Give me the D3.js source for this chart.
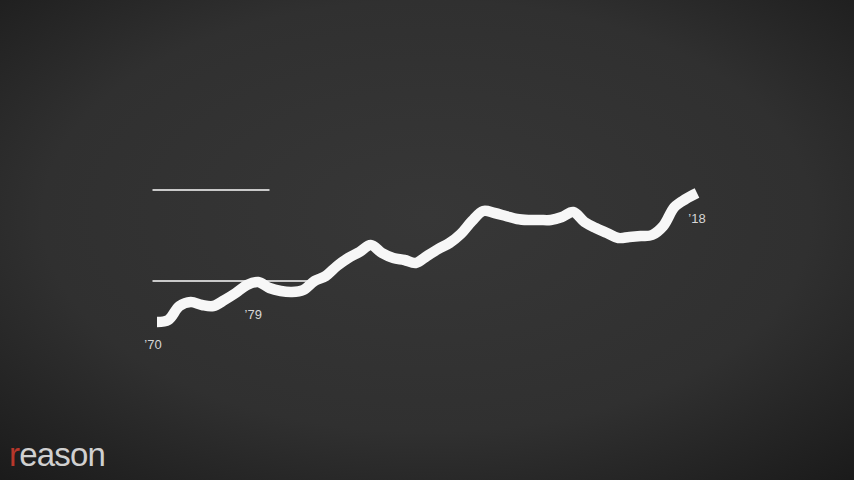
<!DOCTYPE html>
<html><head><meta charset="utf-8">
<script src="https://cdn.jsdelivr.net/npm/d3@7"></script>
<style>html,body{margin:0;padding:0;background:#2a2a2a;overflow:hidden}svg{display:block}</style>
</head><body>
<svg id="chart" width="854" height="480"></svg>
<script>
const years = d3.range(1970, 2019);
const values = [8, 10, 24, 28, 25, 24, 30, 37, 45, 48, 42, 39, 38, 40, 49, 54, 64, 72, 78, 85, 77, 72, 70, 67, 74, 81, 87, 96, 109, 119, 117, 114, 111, 110, 110, 110, 113, 118, 108, 102, 97, 92, 93, 94, 95, 104, 123, 131, 137];
const labelYears = [1970, 1979, 2018];
const labelTexts = ["\u201970", "\u201979", "\u201918"];
const refValues = [140, 49];
const refStart = [1969.6, 1969.6];
const refEnd = [1980, 1983.6];

const svg = d3.select("#chart");
const W = 854, H = 480;
const defs = svg.append("defs");
const rg = defs.append("radialGradient").attr("id","bg").attr("cx","50%").attr("cy","45%").attr("r","75%");
rg.append("stop").attr("offset","0%").attr("stop-color","#373737");
rg.append("stop").attr("offset","60%").attr("stop-color","#303030");
rg.append("stop").attr("offset","100%").attr("stop-color","#1a1a1a");
svg.append("rect").attr("width",W).attr("height",H).attr("fill","url(#bg)");

const x = d3.scaleLinear().domain([1970, 2018]).range([157, 697]);
const y = d3.scaleLinear().domain([0, 140]).range([330, 190]);

svg.selectAll("line.ref").data(refValues).join("line").attr("class","ref")
  .attr("x1",(d,i)=>x(refStart[i])).attr("x2",(d,i)=>x(refEnd[i]))
  .attr("y1",d=>y(d)).attr("y2",d=>y(d))
  .attr("stroke","#c9c9c9").attr("stroke-width",2);

const data = years.map((yr,i)=>({yr, v: values[i]}));
const line = d3.line().x(d=>x(d.yr)).y(d=>y(d.v)).curve(d3.curveCatmullRom.alpha(0.5));
svg.append("path").datum(data).attr("d",line)
  .attr("fill","none").attr("stroke","#f7f7f7").attr("stroke-width",10.5)
  .attr("stroke-linejoin","round").attr("stroke-linecap","butt");

const labelPos = [[-4, 27], [-5, 37], [0, 30]];
svg.selectAll("text.lbl").data(labelYears).join("text").attr("class","lbl")
  .attr("x",(d,i)=>x(d)+labelPos[i][0])
  .attr("y",(d,i)=>y(values[years.indexOf(d)])+labelPos[i][1])
  .attr("text-anchor","middle")
  .attr("font-family","Liberation Sans, Arial, sans-serif").attr("font-size",13)
  .attr("fill","#d6d6d6").text((d,i)=>labelTexts[i]);

const logo = svg.append("text").attr("x",9).attr("y",466)
  .attr("font-family","Liberation Sans, Arial, sans-serif").attr("font-size",33)
  .attr("font-weight",500).attr("letter-spacing",-0.8);
logo.append("tspan").attr("fill","#b8372b").text("r");
logo.append("tspan").attr("fill","#d0d0d0").text("eason");
</script>
</body></html>
